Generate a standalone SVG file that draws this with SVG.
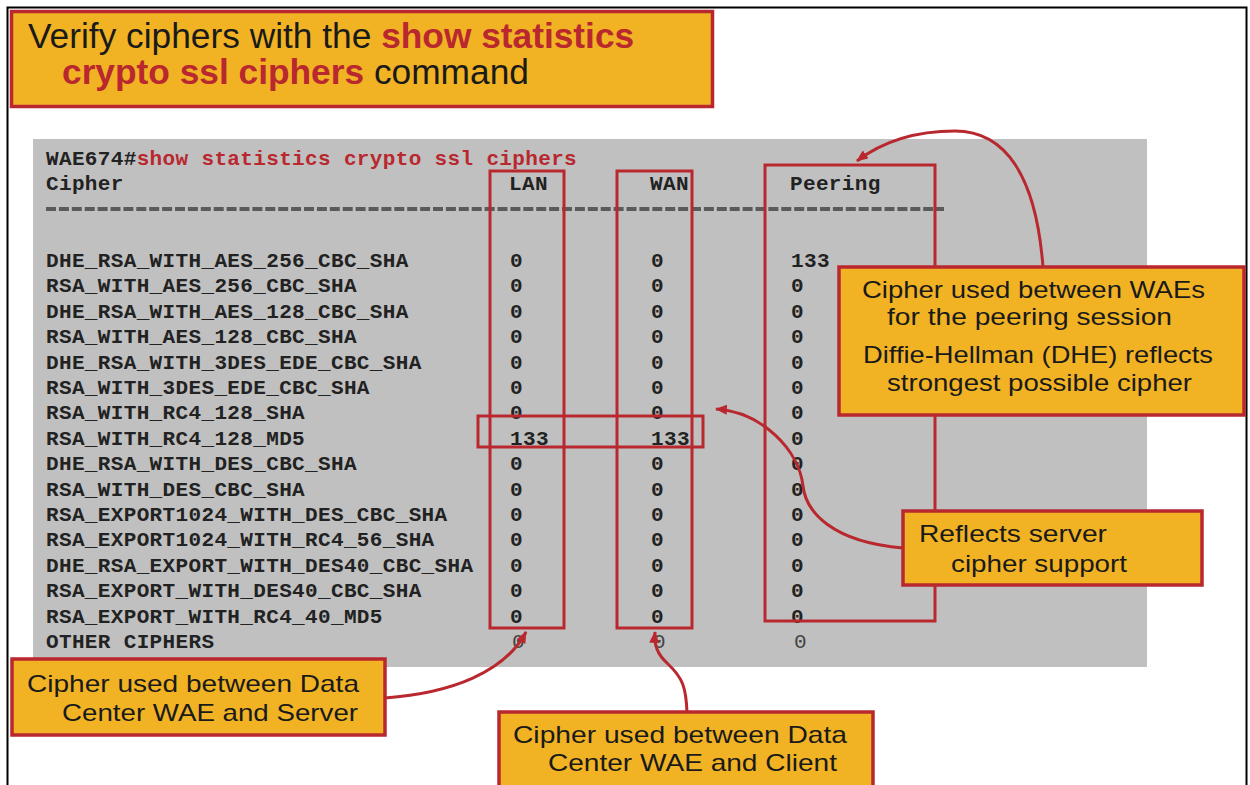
<svg xmlns="http://www.w3.org/2000/svg" width="1250" height="785" viewBox="0 0 1250 785">
<style>
.frame{fill:#fff;stroke:#000;stroke-width:2}
.obox{fill:#F1B324;stroke:#B8282E;stroke-width:3.5}
.panel{fill:#C0C0C0}
.rbox{fill:none;stroke:#B8282E;stroke-width:3}
.mono{font-family:"Liberation Mono","DejaVu Sans Mono",monospace;font-weight:bold;font-size:21px;letter-spacing:0.35px;fill:#222}
.thin{font-weight:normal;fill:#444}
.red{fill:#B8282E}
.sans{font-family:"Liberation Sans",Arial,sans-serif;font-size:24px;fill:#1a1a1a}
.title{font-family:"Liberation Sans",Arial,sans-serif;font-size:35.3px;fill:#1a1a1a}
.b{font-weight:bold;fill:#B8282E}
.conn{fill:none;stroke:#B8282E;stroke-width:3}
</style>
<defs>
<marker id="arr" viewBox="0 0 12 10" refX="11" refY="5" markerWidth="12" markerHeight="10" markerUnits="userSpaceOnUse" orient="auto">
<path d="M0,0 L12,5 L0,10 z" fill="#B8282E"/>
</marker>
</defs>
<rect class="frame" x="7.5" y="7.5" width="1239" height="800"/>

<g id="title">
<rect class="obox" x="11.5" y="11.5" width="701" height="95"/>
<text class="title" x="28" y="48">Verify ciphers with the <tspan class="b">show statistics</tspan></text>
<text class="title" x="62" y="84"><tspan class="b">crypto ssl ciphers</tspan> command</text>
</g>

<g id="terminal">
<rect class="panel" x="33" y="139" width="1114" height="528"/>
<text class="mono" x="46" y="165">WAE674#<tspan class="red">show statistics crypto ssl ciphers</tspan></text>
<text class="mono" x="46" y="190">Cipher</text>
<text class="mono" x="509" y="190">LAN</text>
<text class="mono" x="650" y="190">WAN</text>
<text class="mono" x="790" y="190">Peering</text>
<line x1="46" y1="209" x2="944" y2="209" stroke="#5a5a5a" stroke-width="4" stroke-dasharray="10 2.9"/>
<g class="mono">
<text x="46" y="267">DHE_RSA_WITH_AES_256_CBC_SHA</text>
<text x="46" y="292.4">RSA_WITH_AES_256_CBC_SHA</text>
<text x="46" y="317.8">DHE_RSA_WITH_AES_128_CBC_SHA</text>
<text x="46" y="343.2">RSA_WITH_AES_128_CBC_SHA</text>
<text x="46" y="368.6">DHE_RSA_WITH_3DES_EDE_CBC_SHA</text>
<text x="46" y="394">RSA_WITH_3DES_EDE_CBC_SHA</text>
<text x="46" y="419.4">RSA_WITH_RC4_128_SHA</text>
<text x="46" y="444.8">RSA_WITH_RC4_128_MD5</text>
<text x="46" y="470.2">DHE_RSA_WITH_DES_CBC_SHA</text>
<text x="46" y="495.6">RSA_WITH_DES_CBC_SHA</text>
<text x="46" y="521">RSA_EXPORT1024_WITH_DES_CBC_SHA</text>
<text x="46" y="546.4">RSA_EXPORT1024_WITH_RC4_56_SHA</text>
<text x="46" y="571.8">DHE_RSA_EXPORT_WITH_DES40_CBC_SHA</text>
<text x="46" y="597.2">RSA_EXPORT_WITH_DES40_CBC_SHA</text>
<text x="46" y="622.6">RSA_EXPORT_WITH_RC4_40_MD5</text>
<text x="46" y="648">OTHER CIPHERS</text>
</g>
<g class="mono">
<text x="510" y="267">0</text><text x="651" y="267">0</text><text x="791" y="267">133</text>
<text x="510" y="292.4">0</text><text x="651" y="292.4">0</text><text x="791" y="292.4">0</text>
<text x="510" y="317.8">0</text><text x="651" y="317.8">0</text><text x="791" y="317.8">0</text>
<text x="510" y="343.2">0</text><text x="651" y="343.2">0</text><text x="791" y="343.2">0</text>
<text x="510" y="368.6">0</text><text x="651" y="368.6">0</text><text x="791" y="368.6">0</text>
<text x="510" y="394">0</text><text x="651" y="394">0</text><text x="791" y="394">0</text>
<text x="510" y="419.4">0</text><text x="651" y="419.4">0</text><text x="791" y="419.4">0</text>
<text x="510" y="444.8">133</text><text x="651" y="444.8">133</text><text x="791" y="444.8">0</text>
<text x="510" y="470.2">0</text><text x="651" y="470.2">0</text><text x="791" y="470.2">0</text>
<text x="510" y="495.6">0</text><text x="651" y="495.6">0</text><text x="791" y="495.6">0</text>
<text x="510" y="521">0</text><text x="651" y="521">0</text><text x="791" y="521">0</text>
<text x="510" y="546.4">0</text><text x="651" y="546.4">0</text><text x="791" y="546.4">0</text>
<text x="510" y="571.8">0</text><text x="651" y="571.8">0</text><text x="791" y="571.8">0</text>
<text x="510" y="597.2">0</text><text x="651" y="597.2">0</text><text x="791" y="597.2">0</text>
<text x="510" y="622.6">0</text><text x="651" y="622.6">0</text><text x="791" y="622.6">0</text>
<text class="thin" x="512" y="648">0</text><text class="thin" x="653" y="648">0</text><text class="thin" x="794" y="648">0</text>
</g>
</g>

<g id="highlight-boxes">
<rect id="lan-box" class="rbox" x="490" y="171" width="74" height="457"/>
<rect id="wan-box" class="rbox" x="617" y="171" width="75" height="457"/>
<rect id="peering-box" class="rbox" x="765" y="165" width="170" height="456"/>
<rect id="row-box" class="rbox" x="478" y="416" width="225" height="31"/>
</g>

<g id="connectors">
<path class="conn" d="M1043,267 C1036,175 1005,131 955,131 C910,131 878,145 857,161" marker-end="url(#arr)"/>
<path class="conn" d="M903,548 C832,542 806,512 803,486 C799,450 762,412 716,409" marker-end="url(#arr)"/>
<path class="conn" d="M385,698 C452,693 505,672 526,632" marker-end="url(#arr)"/>
<path class="conn" d="M687,712 C686,688 683,678 668,664 C657,654 654,645 655,632" marker-end="url(#arr)"/>
</g>

<g id="callout-peering">
<rect class="obox" x="839" y="267" width="405" height="148"/>
<text class="sans" x="862" y="298" textLength="343" lengthAdjust="spacingAndGlyphs">Cipher used between WAEs</text>
<text class="sans" x="887" y="325" textLength="285" lengthAdjust="spacingAndGlyphs">for the peering session</text>
<text class="sans" x="863" y="363" textLength="350" lengthAdjust="spacingAndGlyphs">Diffie-Hellman (DHE) reflects</text>
<text class="sans" x="887" y="391" textLength="305" lengthAdjust="spacingAndGlyphs">strongest possible cipher</text>
</g>

<g id="callout-server-support">
<rect class="obox" x="903" y="511" width="299" height="74"/>
<text class="sans" x="919" y="542" textLength="188" lengthAdjust="spacingAndGlyphs">Reflects server</text>
<text class="sans" x="951" y="572" textLength="176" lengthAdjust="spacingAndGlyphs">cipher support</text>
</g>

<g id="callout-server">
<rect class="obox" x="12" y="659" width="373" height="76"/>
<text class="sans" x="27" y="692" textLength="332" lengthAdjust="spacingAndGlyphs">Cipher used between Data</text>
<text class="sans" x="62" y="721" textLength="296" lengthAdjust="spacingAndGlyphs">Center WAE and Server</text>
</g>

<g id="callout-client">
<rect class="obox" x="499" y="712" width="374" height="90"/>
<text class="sans" x="513" y="743" textLength="334" lengthAdjust="spacingAndGlyphs">Cipher used between Data</text>
<text class="sans" x="548" y="771" textLength="289" lengthAdjust="spacingAndGlyphs">Center WAE and Client</text>
</g>
</svg>
